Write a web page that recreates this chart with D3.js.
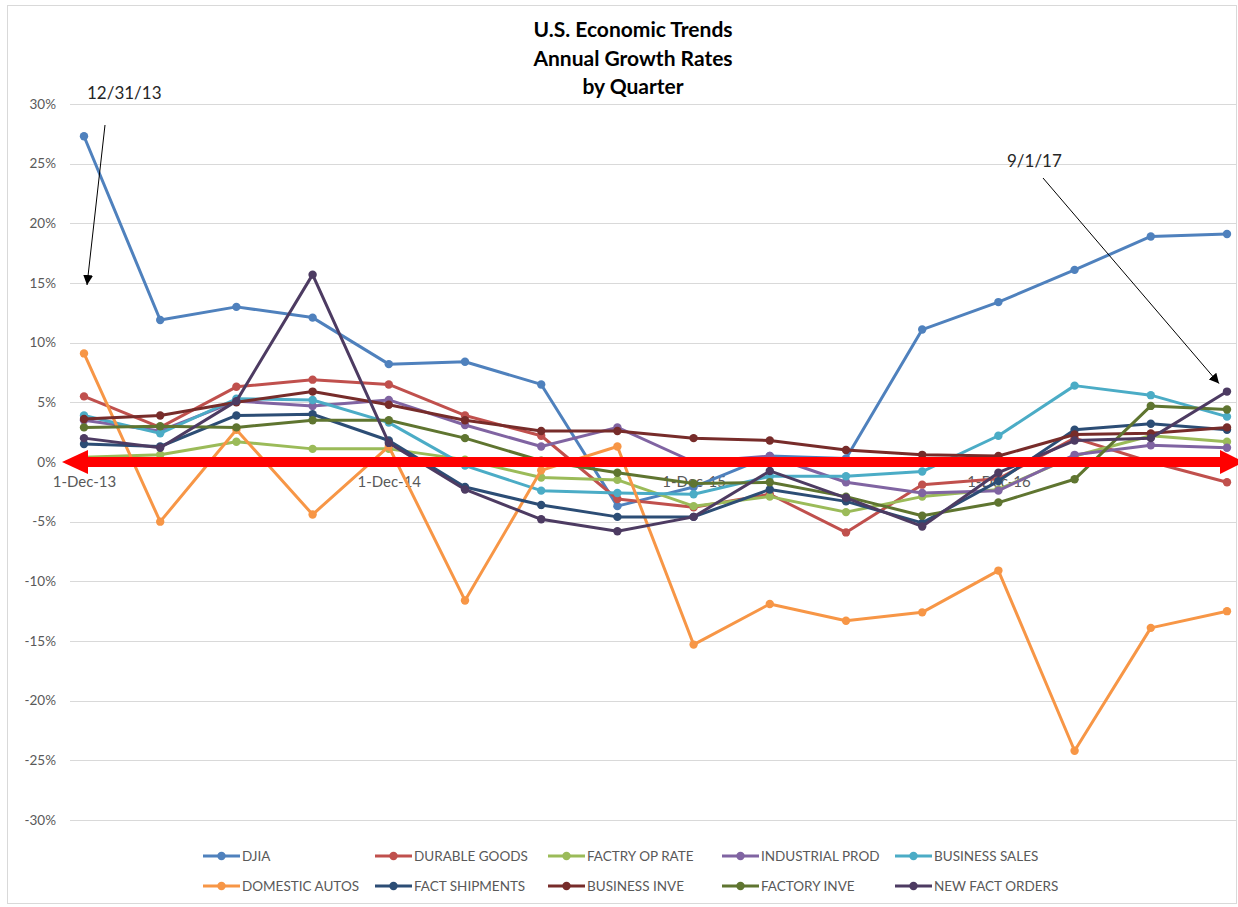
<!DOCTYPE html>
<html>
<head>
<meta charset="utf-8">
<script src="https://cdn.jsdelivr.net/npm/d3@7/dist/d3.min.js"></script>
<style>
  html, body { margin: 0; padding: 0; background: #fff; }
  svg { display: block; }
</style>
</head>
<body>
<svg id="chart" width="1238" height="907"></svg>
<script>
// ---------- DATA ----------
const quarters = ["1-Dec-13","1-Mar-14","1-Jun-14","1-Sep-14","1-Dec-14","1-Mar-15","1-Jun-15","1-Sep-15",
                  "1-Dec-15","1-Mar-16","1-Jun-16","1-Sep-16","1-Dec-16","1-Mar-17","1-Jun-17","1-Sep-17"];
const xTickLabels = ["1-Dec-13","1-Dec-14","1-Dec-15","1-Dec-16"];
const yTicks = [-30,-25,-20,-15,-10,-5,0,5,10,15,20,25,30];
const titleLines = ["U.S. Economic Trends","Annual Growth Rates","by Quarter"];

const seriesNames = ["DJIA","DURABLE GOODS","FACTRY OP RATE","INDUSTRIAL PROD","BUSINESS SALES",
                     "DOMESTIC AUTOS","FACT SHIPMENTS","BUSINESS INVE","FACTORY INVE","NEW FACT ORDERS"];
const seriesColors = ["#4F81BD","#C0504D","#9BBB59","#8064A2","#4BACC6",
                      "#F79646","#2C4D75","#772C2A","#5F7530","#4D3B62"];

const djia          = [27.3, 11.9, 13.0, 12.1, 8.2, 8.4, 6.5, -3.7, -2.1, 0.5, 0.3, 11.1, 13.4, 16.1, 18.9, 19.1];
const durableGoods  = [5.5, 2.9, 6.3, 6.9, 6.5, 3.9, 2.2, -3.1, -3.8, -2.7, -5.9, -1.9, -1.4, 2.0, 0.0, -1.7];
const factryOpRate  = [0.4, 0.6, 1.7, 1.1, 1.1, 0.2, -1.3, -1.5, -3.7, -2.9, -4.2, -2.9, -2.3, 0.5, 2.2, 1.7];
const industrialProd= [3.5, 2.6, 5.1, 4.7, 5.2, 3.1, 1.3, 2.9, 0.0, 0.5, -1.7, -2.6, -2.4, 0.6, 1.4, 1.2];
const businessSales = [3.9, 2.4, 5.3, 5.2, 3.3, -0.3, -2.4, -2.6, -2.7, -1.2, -1.2, -0.8, 2.2, 6.4, 5.6, 3.8];
const domesticAutos = [9.1, -5.0, 2.7, -4.4, 1.3, -11.6, -0.7, 1.3, -15.3, -11.9, -13.3, -12.6, -9.1, -24.2, -13.9, -12.5];
const factShipments = [1.5, 1.3, 3.9, 4.0, 1.8, -2.1, -3.6, -4.6, -4.6, -2.3, -3.3, -5.1, -1.6, 2.7, 3.2, 2.7];
const businessInve  = [3.6, 3.9, 5.0, 5.9, 4.8, 3.5, 2.6, 2.6, 2.0, 1.8, 1.0, 0.6, 0.5, 2.3, 2.4, 2.9];
const factoryInve   = [2.9, 3.0, 2.9, 3.5, 3.5, 2.0, 0.1, -0.9, -1.8, -1.7, -2.9, -4.5, -3.4, -1.45, 4.7, 4.4];
const newFactOrders = [2.0, 1.2, 5.1, 15.7, 1.6, -2.3, -4.8, -5.8, -4.6, -0.75, -3.0, -5.4, -0.9, 1.8, 2.0, 5.9];

const seriesValues = [djia, durableGoods, factryOpRate, industrialProd, businessSales,
                      domesticAutos, factShipments, businessInve, factoryInve, newFactOrders];

const annotations = [
  { text: "12/31/13", from: "1-Dec-13" },
  { text: "9/1/17",   from: "1-Sep-17" }
];

// ---------- CHART ----------
const svg = d3.select("#chart");
const FONT = "Lato, 'Open Sans', 'Liberation Sans', sans-serif";
const GRAY = "#595959";

// outer frame
svg.append("rect").attr("x", 7.5).attr("y", 5.5).attr("width", 1229).attr("height", 898)
  .attr("fill", "#fff").attr("stroke", "#D9D9D9").attr("stroke-width", 1);

const x = d3.scalePoint().domain(quarters).range([84, 1227]);
const y = d3.scaleLinear().domain([-30, 30]).range([820, 104]);

// gridlines + y axis labels
const yAxis = d3.axisLeft(y).tickValues(yTicks).tickSize(0).tickPadding(0)
  .tickFormat(d => d + "%");
const gy = svg.append("g").attr("transform", "translate(56,0)").call(yAxis);
gy.select(".domain").remove();
gy.selectAll("text").attr("font-family", FONT).attr("font-size", 13.5).attr("fill", GRAY);

svg.append("g").selectAll("line").data(yTicks).join("line")
  .attr("x1", 70).attr("x2", 1236)
  .attr("y1", d => Math.round(y(d)) + 0.5).attr("y2", d => Math.round(y(d)) + 0.5)
  .attr("stroke", "#D9D9D9").attr("stroke-width", 1);

// category labels along the zero line
const xAxis = d3.axisBottom(x).tickValues(xTickLabels).tickSize(0).tickPadding(14);
const gx = svg.append("g").attr("transform", `translate(0,${y(0)})`).call(xAxis);
gx.select(".domain").remove();
gx.selectAll("text").attr("font-family", FONT).attr("font-size", 15).attr("fill", GRAY);

// title
svg.append("g").selectAll("text").data(titleLines).join("text")
  .attr("x", 633).attr("y", (d, i) => 37 + i * 28.5)
  .attr("text-anchor", "middle")
  .attr("font-family", FONT).attr("font-weight", "bold").attr("font-size", 21)
  .attr("fill", "#000").text(d => d);

// series
const line = d3.line().x((d, i) => x(quarters[i])).y(d => y(d));
const gs = svg.append("g");
seriesValues.forEach((vals, si) => {
  const g = gs.append("g");
  g.append("path").datum(vals).attr("d", line)
    .attr("fill", "none").attr("stroke", seriesColors[si]).attr("stroke-width", 3)
    .attr("stroke-linejoin", "round");
  g.selectAll("circle").data(vals).join("circle")
    .attr("cx", (d, i) => x(quarters[i])).attr("cy", d => y(d)).attr("r", 4.2)
    .attr("fill", seriesColors[si]);
});

// red double-headed arrow along zero
const y0 = y(0);
const red = "#FF0000";
svg.append("line").attr("x1", 80).attr("x2", 1225).attr("y1", y0).attr("y2", y0)
  .attr("stroke", red).attr("stroke-width", 10);
svg.append("path").attr("d", `M62,${y0} L88,${y0 - 12} L88,${y0 + 12} Z`).attr("fill", red);
svg.append("path").attr("d", `M1244,${y0} L1220,${y0 - 12} L1220,${y0 + 12} Z`).attr("fill", red);

// annotations
const defs = svg.append("defs");
defs.append("marker").attr("id", "ah").attr("viewBox", "0 0 10 10").attr("refX", 10).attr("refY", 5)
  .attr("markerWidth", 10).attr("markerHeight", 10).attr("markerUnits", "userSpaceOnUse").attr("orient", "auto")
  .append("path").attr("d", "M0,0 L10,5 L0,10 Z").attr("fill", "#000");

// 12/31/13
svg.append("text").attr("x", 87).attr("y", 99).attr("font-family", FONT).attr("font-size", 17)
  .attr("fill", "#262626").text(annotations[0].text);
svg.append("line").attr("x1", 105).attr("y1", 125).attr("x2", x(annotations[0].from) + 3).attr("y2", y(15) + 2)
  .attr("stroke", "#000").attr("stroke-width", 1).attr("marker-end", "url(#ah)");
// 9/1/17
svg.append("text").attr("x", 1007).attr("y", 167).attr("font-family", FONT).attr("font-size", 17)
  .attr("fill", "#262626").text(annotations[1].text);
svg.append("line").attr("x1", 1043).attr("y1", 178).attr("x2", x(annotations[1].from) - 8).attr("y2", y(newFactOrders[15]) - 8)
  .attr("stroke", "#000").attr("stroke-width", 1).attr("marker-end", "url(#ah)");

// legend
const legendCols = [203, 375, 548, 722, 895];
const legendRows = [856, 886];
const lg = svg.append("g");
seriesNames.forEach((name, i) => {
  const cx = legendCols[i % 5], cy = legendRows[Math.floor(i / 5)];
  lg.append("line").attr("x1", cx).attr("x2", cx + 37).attr("y1", cy).attr("y2", cy)
    .attr("stroke", seriesColors[i]).attr("stroke-width", 3);
  lg.append("circle").attr("cx", cx + 18.5).attr("cy", cy).attr("r", 4.2).attr("fill", seriesColors[i]);
  lg.append("text").attr("x", cx + 39).attr("y", cy).attr("dy", "0.35em")
    .attr("font-family", FONT).attr("font-size", 13.5).attr("fill", GRAY).text(name);
});
</script>
</body>
</html>
